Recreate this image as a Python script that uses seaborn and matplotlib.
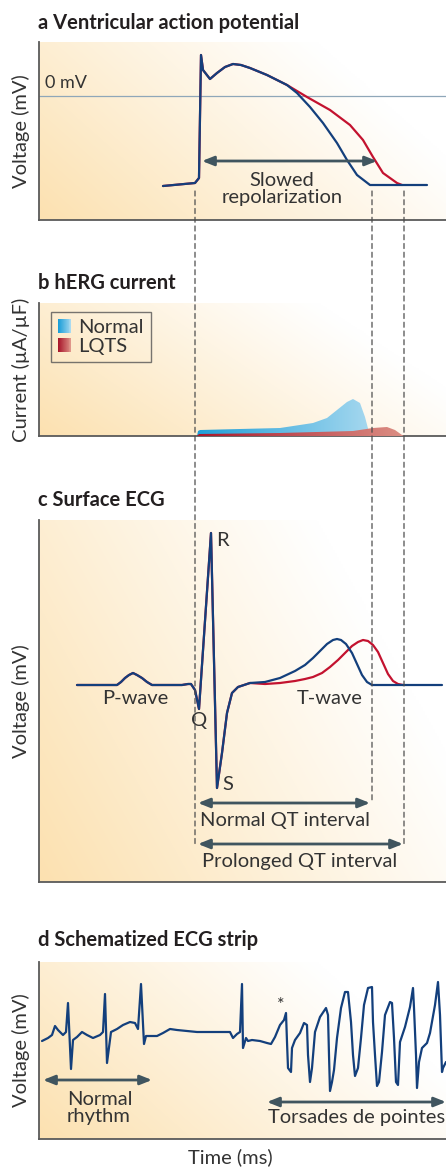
import numpy as np
import matplotlib
matplotlib.use('Agg')
import matplotlib.pyplot as plt
import seaborn as sns
from matplotlib.patches import ConnectionPatch, Rectangle, Patch
from matplotlib.colors import LinearSegmentedColormap
from matplotlib.legend_handler import HandlerBase

# ---------------- data ----------------
# a: ventricular action potential, time in ms, voltage in mV
ap_t_shared = [248, 312, 320, 324, 328, 342, 356, 372, 388, 404, 422, 456, 496]
ap_v_shared = [-90, -87, -82, 41, 26, 17, 23, 29, 32, 31, 28, 21, 11]
ap_t_normal = [516, 542, 568, 596, 616, 636, 662, 776]
ap_v_normal = [3, -11, -27, -47, -64, -79, -89, -89]
ap_t_lqts = [536, 582, 622, 648, 668, 688, 716, 726]
ap_v_lqts = [-1, -14, -29, -44, -61, -77, -87, -89]

# event times used for the dashed guides
t_upstroke = 312
t_qt_normal = 666
t_qt_long = 730

# b: hERG current (uA/uF)
herg_t_normal = [316, 318, 322, 402, 482, 548, 576, 596, 616, 628, 642, 652, 662]
herg_i_normal = [0, 0.05, 0.06, 0.07, 0.08, 0.13, 0.18, 0.26, 0.34, 0.37, 0.33, 0.19, 0.0]
herg_t_lqts = [316, 320, 482, 628, 668, 696, 712, 726, 730]
herg_i_lqts = [0, 0.02, 0.03, 0.05, 0.08, 0.09, 0.06, 0.01, 0.0]

# c: surface ECG (mV)
ecg_t_shared = [76, 156, 164, 172, 180, 188, 196, 206, 216, 226, 286, 298, 304, 312,
                320, 344, 356, 366, 376, 386, 398, 422]
ecg_v_shared = [0, 0, 0.03, 0.07, 0.10, 0.12, 0.10, 0.07, 0.03, 0, 0, 0.01, 0.01, -0.05,
                -0.24, 1.52, -1.03, -0.68, -0.28, -0.08, -0.02, 0.02]
ecg_t_normal = [452, 482, 512, 532, 548, 562, 576, 588, 596, 604, 614, 626, 636, 646,
                656, 666, 806]
ecg_v_normal = [0.03, 0.07, 0.14, 0.20, 0.27, 0.34, 0.41, 0.45, 0.46, 0.45, 0.41, 0.32,
                0.21, 0.10, 0.03, 0, 0]
ecg_t_lqts = [452, 482, 512, 532, 548, 566, 582, 598, 612, 626, 638, 648, 658, 668, 678,
              688, 698, 708, 718, 728]
ecg_v_lqts = [0.01, 0.02, 0.04, 0.06, 0.08, 0.12, 0.18, 0.25, 0.32, 0.39, 0.43, 0.45,
              0.44, 0.40, 0.33, 0.22, 0.11, 0.04, 0.01, 0]

# d: schematized ECG strip (ms, mV)
strip_t = [30, 90, 130, 160, 190, 240, 270, 290, 320, 340, 380, 430, 480, 540, 610, 640,
           660, 680, 720, 780, 840, 910, 960, 990, 1020, 1050, 1070, 1180, 1240, 1310,
           1380, 1580, 1910, 1940, 1980, 2010, 2030, 2040, 2070, 2090, 2130, 2210, 2280,
           2320, 2360, 2410, 2450, 2470, 2480, 2490, 2520, 2530, 2560, 2610, 2650, 2680,
           2690, 2710, 2730, 2760, 2810, 2870, 2890, 2900, 2910, 2930, 2950, 2980, 3020,
           3060, 3090, 3120, 3140, 3160, 3190, 3220, 3250, 3290, 3330, 3340, 3360, 3380,
           3400, 3430, 3460, 3510, 3530, 3550, 3570, 3590, 3610, 3660, 3710, 3740, 3750,
           3770, 3780, 3800, 3830, 3880, 3910, 3960, 3990, 4010, 4030, 4040, 4070]
strip_v = [-0.45, -0.3, -0.15, 0.3, 0.1, -0.15, 0, 1.45, -1.85, -0.4, -0.25, 0, -0.15,
           -0.3, -0.15, 0, 1.9, -1.55, 0, 0.15, 0.35, 0.5, 0.45, 0.15, 2.4, -0.6, -0.2,
           -0.2, -0.05, 0.15, 0.1, 0, 0, -0.3, -0.1, 0, 2.4, -0.8, -0.3, -0.45, -0.4,
           -0.45, -0.55, -0.6, -0.25, 0.35, 0.6, 0.95, -0.5, -1.8, -2.0, -0.8, -0.4,
           -0.05, 0.45, 0.35, -1.15, -2.5, -1.8, 0, 0.75, 1.2, 0.85, -1.15, -2.95, -2.5,
           -1.9, -0.3, 1.2, 2.0, 2.0, 0.5, -1.15, -2.2, -1.8, -0.3, 1.35, 2.2, 2.25, 0.5,
           -1.15, -2.7, -2.5, -1.0, 0.85, 1.5, 1.45, -0.3, -2.5, -2.65, -0.5, 0.25, 1.25,
           2.2, 1.2, -1.15, -2.8, -1.5, -0.8, -0.55, -0.05, 1.35, 2.5, 0.85, -2.0, -1.8,
           -1.5]

# ---------------- style ----------------
sns.set_style('white')
plt.rcParams['font.family'] = ['Lato', 'DejaVu Sans']

BLUE = '#133f7c'
RED = '#c3122f'
ARROW = '#40555f'
TXT = '#333333'
SPINE = '#5a5a5a'
FS = 14.5
FS_TITLE = 14.5

W, H = 446, 1167
fig = plt.figure(figsize=(W / 100, H / 100), dpi=100)


def place(x0, y0, x1, y1):
    return fig.add_axes([x0 / W, 1 - y1 / H, (x1 - x0) / W, (y1 - y0) / H])


def backdrop(ax):
    xx, yy = np.meshgrid(np.linspace(0, 1, 200), np.linspace(0, 1, 200))
    w = np.clip(1 - 0.85 * xx - 0.42 * yy, 0, 1) ** 1.05
    orange = np.array([252, 225, 176]) / 255
    img = 1 - w[..., None] * (1 - orange)
    ax.imshow(img, extent=[0, 1, 0, 1], origin='lower', transform=ax.transAxes,
              aspect='auto', zorder=0, interpolation='bilinear')


def frame(ax):
    sns.despine(ax=ax)
    for s in ['left', 'bottom']:
        ax.spines[s].set_color(SPINE)
        ax.spines[s].set_linewidth(1.3)
    ax.set_xticks([])
    ax.set_yticks([])


def arrow(ax, x0, x1, y):
    ax.annotate('', xy=(x1, y), xytext=(x0, y),
                arrowprops=dict(arrowstyle='<|-|>,head_length=0.7,head_width=0.28',
                                color=ARROW, lw=2, shrinkA=0, shrinkB=0), zorder=5)


def gradient_fill(ax, t, y, c0, c1, z):
    t = np.asarray(t, float)
    y = np.asarray(y, float)
    fb = ax.fill_between(t, 0, y, facecolor='none', edgecolor='none')
    cmap = LinearSegmentedColormap.from_list('g', [c0, c1])
    grad = np.linspace(0, 1, 256)[None, :]
    im = ax.imshow(grad, extent=[t.min(), t.max(), 0, y.max()], cmap=cmap,
                   aspect='auto', origin='lower', zorder=z)
    im.set_clip_path(fb.get_paths()[0], ax.transData)


class GradientSwatch(HandlerBase):
    def __init__(self, c0, c1):
        super().__init__()
        self.cmap = LinearSegmentedColormap.from_list('s', [c0, c1])

    def create_artists(self, legend, orig_handle, xdescent, ydescent, width, height,
                       fontsize, trans):
        n = 14
        out = []
        for i in range(n):
            out.append(Rectangle((-xdescent + i * width / n, -ydescent), width / n * 1.05,
                                 height, facecolor=self.cmap(i / (n - 1)),
                                 edgecolor='none', transform=trans))
        return out


def title(y, letter, text):
    fig.text(38 / W, 1 - y / H, f'{letter} {text}', fontsize=FS_TITLE, fontweight='bold',
             color='#231f20', va='baseline')


# ---------------- panel a ----------------
ax_a = place(39, 42, 446, 220)
backdrop(ax_a)
ax_a.axhline(0, color='#8fa7b9', lw=0.9, zorder=1)
sns.lineplot(x=ap_t_shared + ap_t_lqts, y=ap_v_shared + ap_v_lqts, ax=ax_a, color=RED,
             lw=1.6, estimator=None, sort=False, zorder=3)
sns.lineplot(x=ap_t_shared + ap_t_normal, y=ap_v_shared + ap_v_normal, ax=ax_a,
             color=BLUE, lw=1.6, estimator=None, sort=False, zorder=4)
ax_a.text(12, 13, '0 mV', fontsize=13, color=TXT, va='center', ha='left')
arrow(ax_a, 326, 676, -65)
ax_a.text(486, -93, 'Slowed\nrepolarization', fontsize=FS, color=TXT, ha='center',
          va='center', linespacing=1.0)
ax_a.set_xlim(0, 814)
ax_a.set_ylim(-124, 54)
frame(ax_a)
ax_a.set_ylabel('Voltage (mV)', fontsize=FS, color=TXT)
ax_a.yaxis.set_label_coords(-0.022, 0.5)
title(29, 'a', 'Ventricular action potential')

# ---------------- panel b ----------------
ax_b = place(39, 303, 446, 436)
backdrop(ax_b)
gradient_fill(ax_b, herg_t_normal, herg_i_normal, '#1f9fd8', '#a6d8ef', 2)
gradient_fill(ax_b, herg_t_lqts, herg_i_lqts, '#a8172b', '#dc8f84', 3)
ax_b.set_xlim(0, 814)
ax_b.set_ylim(0, 1.33)
frame(ax_b)
ax_b.set_ylabel('Current (µA/µF)', fontsize=FS, color=TXT)
ax_b.yaxis.set_label_coords(-0.022, 0.5)
h_norm = Patch(label='Normal')
h_lqts = Patch(label='LQTS')
leg = ax_b.legend(handles=[h_norm, h_lqts], loc='upper left', bbox_to_anchor=(0.03, 0.935),
                  borderaxespad=0, fontsize=FS, frameon=True, fancybox=False,
                  handlelength=0.65, handleheight=0.7, handletextpad=0.35,
                  labelspacing=0.1, borderpad=0.35,
                  handler_map={h_norm: GradientSwatch('#1a9ed8', '#a9daf0'),
                               h_lqts: GradientSwatch('#a8172b', '#e0968a')})
leg.get_frame().set_facecolor('none')
leg.get_frame().set_edgecolor('#555555')
leg.get_frame().set_linewidth(1.0)
for txt in leg.get_texts():
    txt.set_color(TXT)
title(289, 'b', 'hERG current')

# ---------------- panel c ----------------
ax_c = place(39, 520, 446, 882)
backdrop(ax_c)
sns.lineplot(x=ecg_t_shared + ecg_t_lqts, y=ecg_v_shared + ecg_v_lqts, ax=ax_c,
             color=RED, lw=1.6, estimator=None, sort=False, zorder=3)
sns.lineplot(x=ecg_t_shared + ecg_t_normal, y=ecg_v_shared + ecg_v_normal, ax=ax_c,
             color=BLUE, lw=1.6, estimator=None, sort=False, zorder=4)
for lbl, x, y in [('R', 366, 1.45), ('Q', 320, -0.35), ('S', 378, -0.99),
                  ('P-wave', 192, -0.13), ('T-wave', 582, -0.13)]:
    ax_c.text(x, y, lbl, fontsize=FS, color=TXT, ha='center', va='center')
arrow(ax_c, 318, 662, -1.18)
ax_c.text(492, -1.35, 'Normal QT interval', fontsize=FS, color=TXT, ha='center',
          va='center')
arrow(ax_c, 318, 728, -1.59)
ax_c.text(522, -1.76, 'Prolonged QT interval', fontsize=FS, color=TXT, ha='center',
          va='center')
ax_c.set_xlim(0, 814)
ax_c.set_ylim(-1.97, 1.65)
frame(ax_c)
ax_c.set_ylabel('Voltage (mV)', fontsize=FS, color=TXT)
ax_c.yaxis.set_label_coords(-0.022, 0.5)
title(506, 'c', 'Surface ECG')

# dashed guides linking a -> c
for t, y_end in [(t_upstroke, -1.59), (t_qt_normal, -1.18), (t_qt_long, -1.59)]:
    con = ConnectionPatch(xyA=(t, -95), coordsA=ax_a.transData,
                          xyB=(t, y_end), coordsB=ax_c.transData,
                          linestyle=(0, (4, 3)), color='#4d4d4d', lw=0.9, zorder=6)
    fig.add_artist(con)

# ---------------- panel d ----------------
ax_d = place(39, 962, 446, 1139)
backdrop(ax_d)
sns.lineplot(x=strip_t, y=strip_v, ax=ax_d, color=BLUE, lw=1.6, estimator=None,
             sort=False, zorder=3)
ax_d.text(2420, 1.35, '*', fontsize=13, color=TXT, ha='center', va='center')
arrow(ax_d, 40, 1130, -2.4)
ax_d.text(280, -3.8, 'Normal\nrhythm', fontsize=FS, color=TXT, ha='left', va='center',
          linespacing=1.0)
arrow(ax_d, 2280, 4070, -3.5)
ax_d.text(3180, -4.3, 'Torsades de pointes', fontsize=FS, color=TXT, ha='center',
          va='center')
ax_d.set_xlim(0, 4070)
ax_d.set_ylim(-5.35, 3.5)
frame(ax_d)
ax_d.set_ylabel('Voltage (mV)', fontsize=FS, color=TXT)
ax_d.yaxis.set_label_coords(-0.022, 0.5)
ax_d.set_xlabel('Time (ms)', fontsize=FS, color=TXT)
ax_d.xaxis.set_label_coords(0.47, -0.05)
title(946, 'd', 'Schematized ECG strip')

fig.savefig('out.png', dpi=100)
